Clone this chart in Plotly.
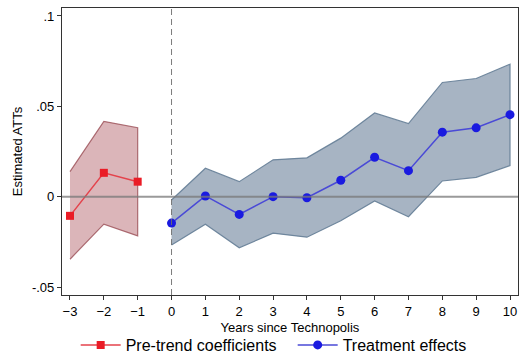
import plotly.graph_objects as go

pre_x = [-3, -2, -1]
pre_y = [-0.0106, 0.0132, 0.0083]
pre_hi = [0.0139, 0.0417, 0.0382]
pre_lo = [-0.0346, -0.0152, -0.0217]

post_x = [0, 1, 2, 3, 4, 5, 6, 7, 8, 9, 10]
post_y = [-0.0146, 0.0004, -0.0098, 0.0, -0.0006, 0.0091, 0.0218, 0.0144, 0.0357, 0.0381, 0.0454]
post_hi = [-0.0018, 0.0157, 0.0083, 0.0204, 0.0215, 0.0324, 0.0463, 0.0404, 0.0632, 0.0654, 0.0733]
post_lo = [-0.0267, -0.0152, -0.0283, -0.0202, -0.0224, -0.0133, -0.0024, -0.0111, 0.0087, 0.0107, 0.0172]

y_ticks = [-0.05, 0, 0.05, 0.1]
y_labels = ["-.05", "0", ".05", ".1"]
x_ticks = list(range(-3, 11))

fig = go.Figure()

fig.add_trace(go.Scatter(
    x=pre_x + pre_x[::-1], y=pre_hi + pre_lo[::-1], fill="toself",
    fillcolor="rgba(160,60,70,0.38)", line=dict(color="rgba(150,70,78,0.75)", width=1.2),
    mode="lines", showlegend=False, hoverinfo="skip"))
fig.add_trace(go.Scatter(
    x=post_x + post_x[::-1], y=post_hi + post_lo[::-1], fill="toself",
    fillcolor="rgba(80,105,135,0.5)", line=dict(color="rgba(100,125,150,0.9)", width=1.2),
    mode="lines", showlegend=False, hoverinfo="skip"))

fig.add_hline(y=0, line=dict(color="rgba(120,120,120,0.75)", width=2))
fig.add_vline(x=0, line=dict(color="rgba(110,110,110,0.9)", width=1, dash="6px,4px"))

fig.add_trace(go.Scatter(
    x=pre_x, y=pre_y, mode="lines+markers", name="Pre-trend coefficients",
    line=dict(color="#e4434c", width=1.5),
    marker=dict(symbol="square", size=8, color="#ea1c26")))
fig.add_trace(go.Scatter(
    x=post_x, y=post_y, mode="lines+markers", name="Treatment effects",
    line=dict(color="#4a4ad6", width=1.5),
    marker=dict(symbol="circle", size=9, color="#1a1ae0")))

H = 362
T = 8
B_AX = 295
paper_h = H - T

fig.update_layout(
    width=519, height=H,
    margin=dict(l=62, r=1, t=T, b=0),
    paper_bgcolor="white", plot_bgcolor="white",
    font=dict(family="Liberation Sans, Arial, sans-serif", color="black", size=13),
    xaxis=dict(range=[-3.236, 10.236], tickvals=x_ticks, ticks="outside", ticklen=4,
               tickcolor="#333", showgrid=False, zeroline=False, automargin=False,
               showline=True, linecolor="#333", linewidth=1.2, mirror=True,
               title=dict(text="Years since Technopolis", font=dict(size=13), standoff=5),
               tickfont=dict(size=13)),
    yaxis=dict(range=[-0.0544, 0.1044], tickvals=y_ticks, ticktext=y_labels,
               domain=[(H - B_AX) / paper_h, 1],
               ticks="outside", ticklen=4, tickcolor="#333", showgrid=False, zeroline=False,
               showline=True, linecolor="#333", linewidth=1.2, mirror=True, automargin=False,
               title=dict(text="Estimated ATTs", font=dict(size=13), standoff=6),
               tickfont=dict(size=13)),
    legend=dict(orientation="h", x=0.03, xanchor="left", y=0, yanchor="bottom",
                font=dict(size=16), itemwidth=40, entrywidth=162),
    showlegend=True,
)

fig.write_html("out.html")
